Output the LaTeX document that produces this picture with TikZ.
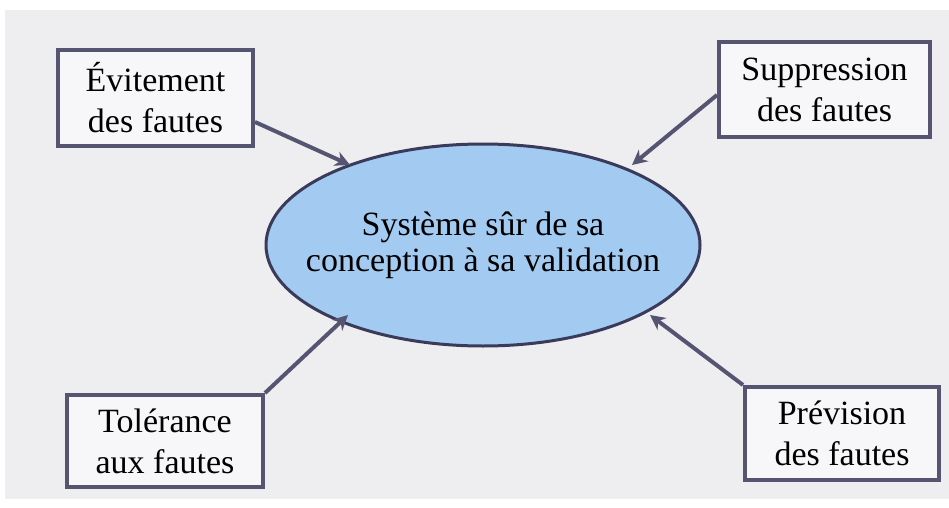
\documentclass[tikz,border=0pt]{standalone}
\usepackage{fontspec}
\setmainfont{Liberation Serif}
\usetikzlibrary{arrows.meta,shapes.geometric}
\definecolor{panel}{HTML}{EEEEF0}
\definecolor{frame}{HTML}{555572}
\definecolor{boxfill}{HTML}{F7F7F9}
\definecolor{bubble}{HTML}{A3CBF2}
\definecolor{bubbleline}{HTML}{3A3A5A}
\tikzset{
  x=1pt, y=1pt,
  faultbox/.style={draw=frame, line width=4pt, fill=boxfill, inner sep=0pt,
    minimum width=#1, text=black, font=\fontsize{34}{41}\selectfont, align=center},
  link/.style={draw=frame, line width=4pt, -{Stealth[length=15pt,width=15pt]}},
}
\begin{document}
\begin{tikzpicture}
  % page and grey panel
  \useasboundingbox (0,0) rectangle (949,507);
  \fill[white] (0,0) rectangle (949,507);
  \fill[panel] (5,8) rectangle (949,497);

  % central system ellipse and its caption
  \node[ellipse, draw=bubbleline, line width=3pt, fill=bubble,
        minimum width=434pt, minimum height=202pt, inner sep=0pt] (sys) at (483,262) {};
  \node[align=center, font=\fontsize{34}{36}\selectfont] (syslabel) at (sys.center)
        {Système sûr de sa\\conception à sa validation};

  % the four fault-handling boxes
  \node[faultbox=195pt, minimum height=96pt] (evit) at (155.5,409) {Évitement\\des fautes};
  \node[faultbox=211pt, minimum height=95pt] (supp) at (824.5,417.5) {Suppression\\des fautes};
  \node[faultbox=196pt, minimum height=92pt] (tole) at (165,66) {Tolérance\\aux fautes};
  \node[faultbox=194pt, minimum height=93pt] (prev) at (842,73.5) {Prévision\\des fautes};

  % arrows pointing at the ellipse
  \coordinate (a1) at (350,342);
  \coordinate (a2) at (632,342);
  \coordinate (a3) at (348,192);
  \coordinate (a4) at (650,192);
  \draw[link] (evit.east |- 0,385) -- (a1);
  \draw[link] (supp.west |- 0,412) -- (a2);
  \draw[link] (tole.north east) -- (a3);
  \draw[link] (prev.north west) -- (a4);
\end{tikzpicture}
\end{document}
